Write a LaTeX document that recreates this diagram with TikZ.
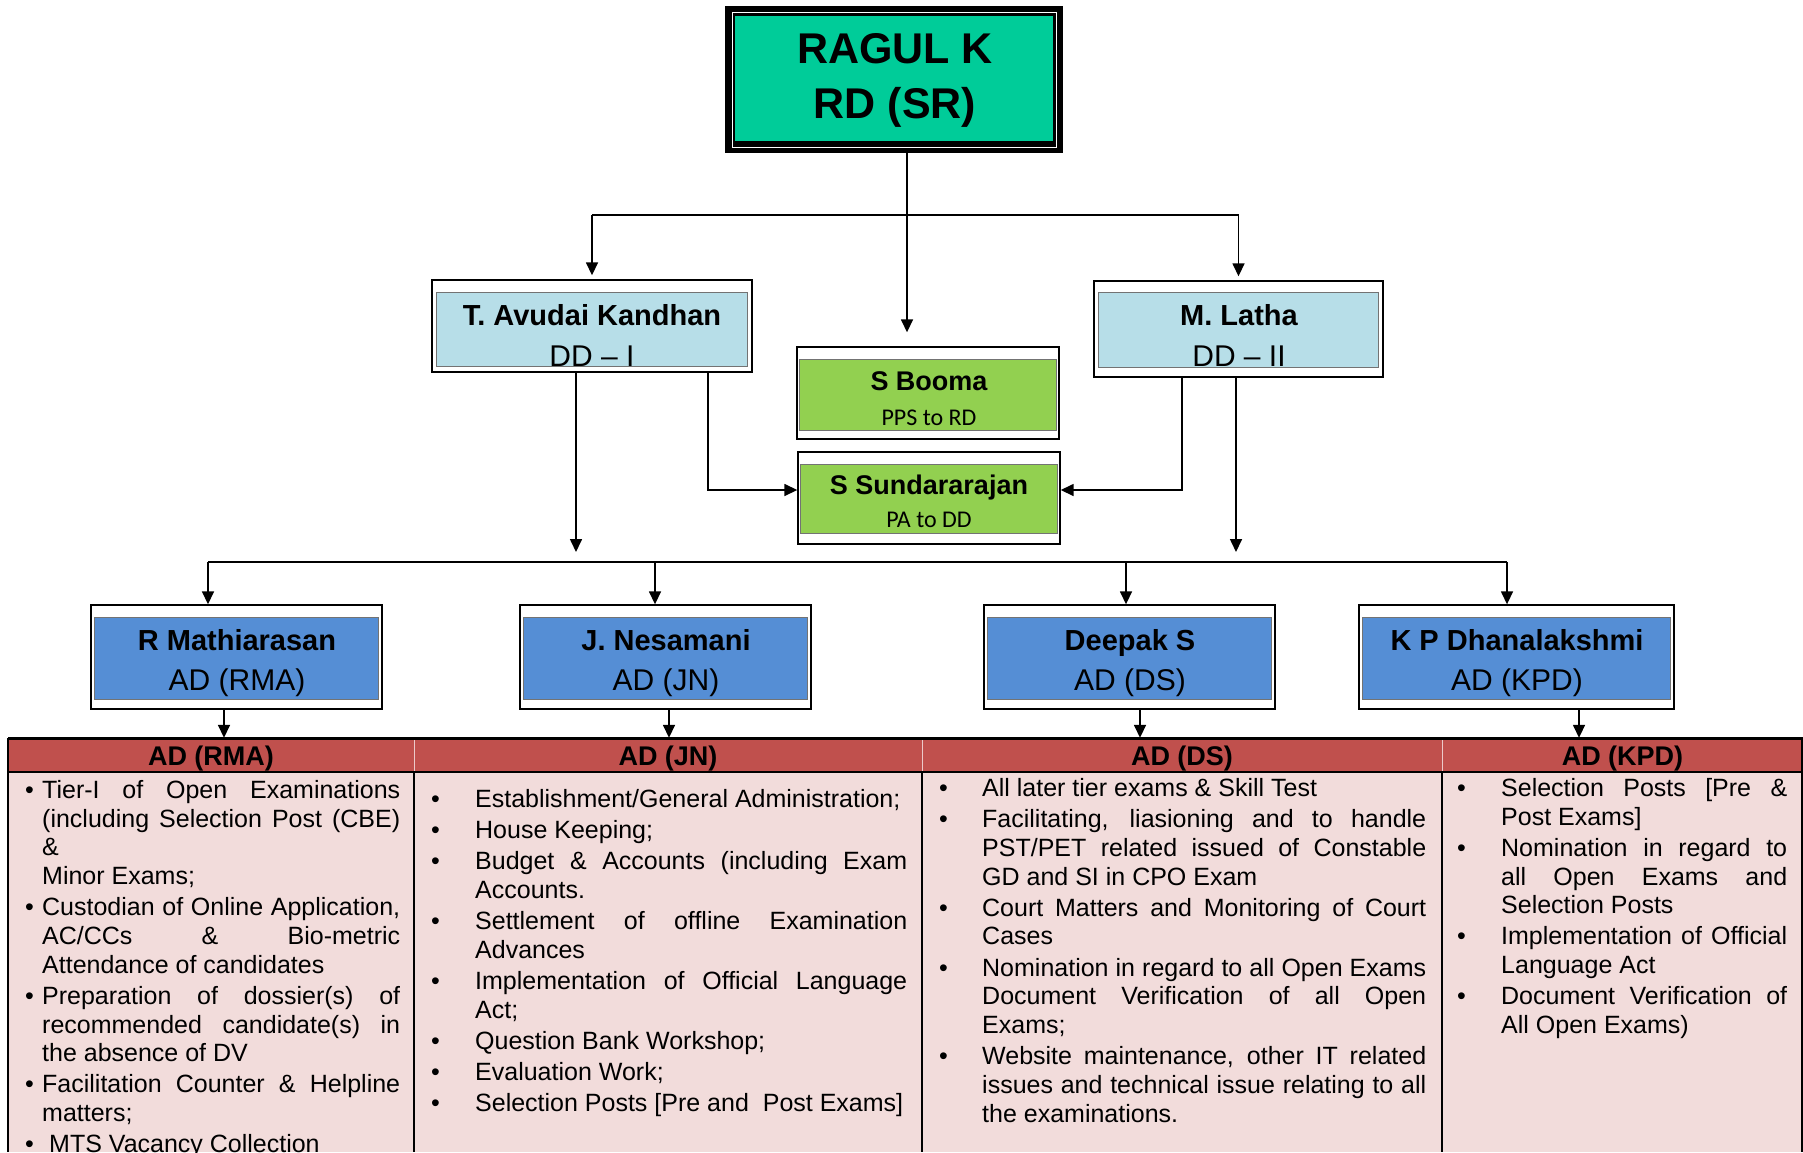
\documentclass[tikz,border=0pt]{standalone}
\usepackage{fontspec}
\setmainfont{Liberation Sans}
\newfontfamily\calibri{Carlito}
\usetikzlibrary{arrows.meta,positioning,calc}
\definecolor{rdgreen}{RGB}{0,204,153}
\definecolor{ddblue}{RGB}{183,222,232}
\definecolor{pagreen}{RGB}{146,208,80}
\definecolor{adblue}{RGB}{85,142,213}
\definecolor{hdrred}{RGB}{192,80,77}
\definecolor{bodypink}{RGB}{242,220,219}
\newlength\bulind
\newcommand\dutyset[1]{\bulind=#1\parskip=2.5pt\tolerance=10000\hbadness=10000\hyphenpenalty=10000}
\newcommand\bul{\par\noindent\hangindent=\bulind\hangafter=1\makebox[\bulind][l]{\textbullet}\ignorespaces}

\begin{document}
\begin{tikzpicture}[x=1pt, y=-1pt,
  frame/.style={draw, line width=1.4pt, inner sep=0pt},
  inner/.style={draw=black!55, line width=0.8pt},
  link/.style={line width=1.6pt, -{Triangle[length=13pt,width=12pt]}},
  wire/.style={line width=1.6pt},
  nm/.style={anchor=base, inner sep=0pt, font=\fontsize{29}{34}\bfseries},
  rl/.style={anchor=base, inner sep=0pt, font=\fontsize{30}{34}\selectfont},
  hdr/.style={fill=hdrred, inner sep=0pt, minimum height=34pt, text height=20pt, text depth=0pt, font=\fontsize{27}{30}\bfseries},
  duty/.style={anchor=north west, inner sep=0pt, align=justify, font=\fontsize{25}{28.7}\selectfont}]
  \useasboundingbox (0,0) rectangle (1803,1152);

  % regional director
  \node[fill=black, minimum width=338pt, minimum height=147pt, inner sep=0pt] (ragul) at (894,79.5) {};
  \draw[white, line width=1pt] ($(ragul.north west)+(8,7)$) rectangle ($(ragul.south east)+(-7,-6)$);
  \fill[rdgreen] ($(ragul.north west)+(10,10)$) rectangle ($(ragul.south east)+(-10,-12)$);
  \node[anchor=base, inner sep=0pt, font=\fontsize{43}{50}\bfseries] (ragulA) at (895,63) {RAGUL K};
  \node[anchor=base, inner sep=0pt, font=\fontsize{43}{50}\bfseries] (ragulB) at (895,118) {RD (SR)};

  % deputy directors
  \node[frame, minimum width=320pt, minimum height=92pt] (avudai) at (592,326) {};
  \filldraw[fill=ddblue, inner] ($(avudai.north west)+(5,13)$) rectangle ($(avudai.south east)+(-5,-6)$);
  \node[nm] (avudaiN) at (592,325) {T. Avudai Kandhan};
  \node[rl] (avudaiR) at (592,366) {DD – I};

  \node[frame, minimum width=289pt, minimum height=96pt] (latha) at (1238.5,329) {};
  \filldraw[fill=ddblue, inner] ($(latha.north west)+(5,12)$) rectangle ($(latha.south east)+(-5,-10)$);
  \node[nm] (lathaN) at (1239,325) {M. Latha};
  \node[rl] (lathaR) at (1239,366) {DD – II};

  % personal staff
  \node[frame, minimum width=262pt, minimum height=92pt] (booma) at (928,393) {};
  \filldraw[fill=pagreen, inner] ($(booma.north west)+(3,13)$) rectangle ($(booma.south east)+(-3,-9)$);
  \node[anchor=base, inner sep=0pt, font=\fontsize{27}{30}\bfseries] (boomaN) at (929,390) {S Booma};
  \node[anchor=base, inner sep=0pt, font=\calibri\fontsize{24}{28}\selectfont] (boomaR) at (929,425) {PPS to RD};

  \node[frame, minimum width=262pt, minimum height=92pt] (sundar) at (929,498) {};
  \filldraw[fill=pagreen, inner] ($(sundar.north west)+(3,13)$) rectangle ($(sundar.south east)+(-3,-11)$);
  \node[anchor=base, inner sep=0pt, font=\fontsize{27}{30}\bfseries] (sundarN) at (929,494) {S Sundararajan};
  \node[anchor=base, inner sep=0pt, font=\calibri\fontsize{24}{28}\selectfont] (sundarR) at (929,527) {PA to DD};

  % assistant directors
  \node[frame, minimum width=291pt, minimum height=104pt] (rma) at (236.5,657) {};
  \filldraw[fill=adblue, inner] ($(rma.north west)+(4,13)$) rectangle ($(rma.south east)+(-4,-10)$);
  \node[nm] (rmaN) at (237,650) {R Mathiarasan};
  \node[rl] (rmaR) at (237,690) {AD (RMA)};

  \node[frame, minimum width=291pt, minimum height=104pt] (jn) at (665.5,657) {};
  \filldraw[fill=adblue, inner] ($(jn.north west)+(4,13)$) rectangle ($(jn.south east)+(-4,-10)$);
  \node[nm] (jnN) at (666,650) {J. Nesamani};
  \node[rl] (jnR) at (666,690) {AD (JN)};

  \node[frame, minimum width=291pt, minimum height=104pt] (ds) at (1129.5,657) {};
  \filldraw[fill=adblue, inner] ($(ds.north west)+(4,13)$) rectangle ($(ds.south east)+(-4,-10)$);
  \node[nm] (dsN) at (1130,650) {Deepak S};
  \node[rl] (dsR) at (1130,690) {AD (DS)};

  \node[frame, minimum width=315pt, minimum height=104pt] (kpd) at (1516.5,657) {};
  \filldraw[fill=adblue, inner] ($(kpd.north west)+(4,13)$) rectangle ($(kpd.south east)+(-4,-10)$);
  \node[nm] (kpdN) at (1517,650) {K P Dhanalakshmi};
  \node[rl] (kpdR) at (1517,690) {AD (KPD)};

  % connectors, upper part
  \draw[link, shorten >=14pt] ($(ragul.south)+(13,0)$) -- ($(booma.north)+(-21,0)$);
  \coordinate (split) at (907,215);
  \draw[wire] (avudai.north |- split) -- (latha.north |- split);
  \draw[link, shorten >=4pt] (avudai.north |- split) -- (avudai.north);
  \draw[link, shorten >=4pt] (latha.north |- split) -- (latha.north);
  \draw[link] ($(avudai.south)+(116,0)$) |- ($(sundar.west)+(0,-8)$);
  \draw[link] ($(latha.south)+(-56.5,0)$) |- ($(sundar.east)+(0,-8)$);
  \coordinate (dnL) at (576,552);
  \coordinate (dnR) at (1236,552);
  \draw[link] (avudai.south -| dnL) -- (dnL);
  \draw[link] (latha.south -| dnR) -- (dnR);

  % connectors to the assistant directors
  \coordinate (adL) at (208,562);
  \coordinate (adR) at (1507,562);
  \coordinate (toJN) at (655,562);
  \coordinate (toDS) at (1126,562);
  \draw[wire] (adL) -- (adR);
  \draw[link] (adL) -- (adL |- rma.north);
  \draw[link] (toJN) -- (toJN |- jn.north);
  \draw[link] (toDS) -- (toDS |- ds.north);
  \draw[link] (adR) -- (adR |- kpd.north);

  % table of duties
  \fill[bodypink] (8,772) rectangle (1803,1152);
  \node[hdr, minimum width=406pt] (hRMA) at (211,755) {AD (RMA)};
  \node[hdr, minimum width=508pt] (hJN) at (668,755) {AD (JN)};
  \node[hdr, minimum width=520pt] (hDS) at (1182,755) {AD (DS)};
  \node[hdr, minimum width=361pt] (hKPD) at (1622.5,755) {AD (KPD)};
  \draw[white!70!hdrred, line width=1pt] (414,740) -- (414,771) (922,740) -- (922,771) (1442,740) -- (1442,771);
  \draw[line width=1.6pt] (8,738) -- (8,1152) (414,772) -- (414,1152) (922,772) -- (922,1152)
    (1442,772) -- (1442,1152) (1802,738) -- (1802,1152);
  \draw[line width=3pt] (8,738) -- (1803,738);
  \draw[line width=2.5pt] (8,772) -- (1803,772);

  \draw[link] ($(rma.south)+(-12.5,0)$) coordinate (aRMA) -- (aRMA |- hRMA.north);
  \draw[link] ($(jn.south)+(3.5,0)$) coordinate (aJN) -- (aJN |- hJN.north);
  \draw[link] ($(ds.south)+(10.5,0)$) coordinate (aDS) -- (aDS |- hDS.north);
  \draw[link] ($(kpd.south)+(62.5,0)$) coordinate (aKPD) -- (aKPD |- hKPD.north);

  \node[duty, text width=375pt] (dRMA) at (25,767) {\dutyset{17pt}
    \bul\rule{0pt}{20pt}Tier-I of Open Examinations\linebreak (including Selection Post (CBE)\linebreak \&\newline Minor Exams;
    \bul Custodian of Online Application,\linebreak AC/CCs \& Bio-metric\linebreak Attendance of candidates
    \bul Preparation of dossier(s) of\linebreak recommended candidate(s) in\linebreak the absence of DV
    \bul Facilitation Counter \& Helpline\linebreak matters;
    \bul\hspace*{7pt}MTS Vacancy Collection\par};
  \node[duty, text width=476pt] (dJN) at (431,776) {\dutyset{44pt}
    \bul\rule{0pt}{20pt}Establishment/General Administration;
    \bul House Keeping;
    \bul Budget \& Accounts (including Exam\linebreak Accounts.
    \bul Settlement of offline Examination\linebreak Advances
    \bul Implementation of Official Language\linebreak Act;
    \bul Question Bank Workshop;
    \bul Evaluation Work;
    \bul Selection Posts [Pre and\ \ Post Exams]\par};
  \node[duty, text width=487pt] (dDS) at (939,765) {\dutyset{43pt}
    \bul\rule{0pt}{20pt}All later tier exams \& Skill Test
    \bul Facilitating, liasioning and to handle\linebreak PST/PET related issued of Constable\linebreak GD and SI in CPO Exam
    \bul Court Matters and Monitoring of Court\linebreak Cases
    \bul Nomination in regard to all Open Exams\linebreak Document Verification of all Open\linebreak Exams;
    \bul Website maintenance, other IT related\linebreak issues and technical issue relating to all\linebreak the examinations.\par};
  \node[duty, text width=330pt] (dKPD) at (1457,765) {\dutyset{44pt}
    \bul\rule{0pt}{20pt}Selection Posts [Pre \&\linebreak Post Exams]
    \bul Nomination in regard to\linebreak all Open Exams and\linebreak Selection Posts
    \bul Implementation of Official\linebreak Language Act
    \bul Document Verification of\linebreak All Open Exams)\par};
\end{tikzpicture}
\end{document}
